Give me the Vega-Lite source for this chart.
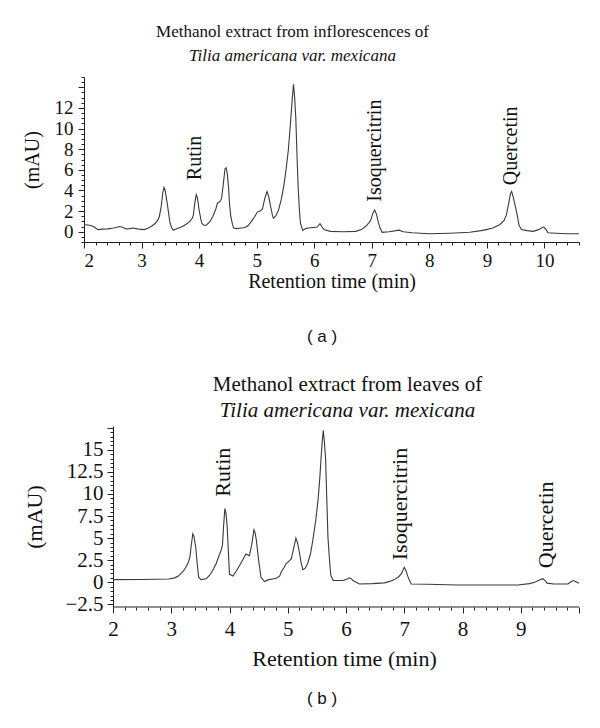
{
  "$schema": "https://vega.github.io/schema/vega-lite/v6.json",
  "background": "white",
  "padding": {"left": 22, "top": 22, "right": 5, "bottom": 5},
  "config": {
    "view": {"stroke": null},
    "font": "Liberation Serif",
    "axis": {
      "grid": false,
      "domainColor": "#222",
      "tickColor": "#222",
      "labelFont": "Liberation Serif",
      "labelColor": "#111",
      "titleFont": "Liberation Serif",
      "titleFontWeight": "normal",
      "titleColor": "#111"
    },
    "title": {
      "font": "Liberation Serif",
      "fontWeight": "normal",
      "color": "#111",
      "subtitleFont": "Liberation Serif",
      "subtitleFontStyle": "italic",
      "subtitleColor": "#111",
      "frame": "group",
      "anchor": "middle"
    }
  },
  "datasets": {
    "a": [
      {"t": 2.0, "v": 0.7}, {"t": 2.06, "v": 0.65}, {"t": 2.12, "v": 0.6}, {"t": 2.18, "v": 0.45}, {"t": 2.24, "v": 0.2},
      {"t": 2.32, "v": 0.25}, {"t": 2.41, "v": 0.27}, {"t": 2.52, "v": 0.35}, {"t": 2.62, "v": 0.5}, {"t": 2.68, "v": 0.4},
      {"t": 2.73, "v": 0.27}, {"t": 2.8, "v": 0.3}, {"t": 2.85, "v": 0.35}, {"t": 2.95, "v": 0.25}, {"t": 3.05, "v": 0.2},
      {"t": 3.12, "v": 0.35}, {"t": 3.18, "v": 0.55}, {"t": 3.23, "v": 0.77}, {"t": 3.28, "v": 1.1}, {"t": 3.31, "v": 1.5},
      {"t": 3.34, "v": 2.4}, {"t": 3.37, "v": 3.8}, {"t": 3.39, "v": 4.3}, {"t": 3.41, "v": 4.0}, {"t": 3.43, "v": 3.3},
      {"t": 3.45, "v": 2.6}, {"t": 3.47, "v": 1.8}, {"t": 3.49, "v": 1.0}, {"t": 3.52, "v": 0.4}, {"t": 3.55, "v": 0.13},
      {"t": 3.6, "v": 0.25}, {"t": 3.69, "v": 0.45}, {"t": 3.77, "v": 0.7}, {"t": 3.84, "v": 1.0}, {"t": 3.88, "v": 1.3},
      {"t": 3.9, "v": 1.6}, {"t": 3.92, "v": 2.6}, {"t": 3.95, "v": 3.6}, {"t": 3.97, "v": 3.3}, {"t": 4.0, "v": 2.1},
      {"t": 4.03, "v": 1.2}, {"t": 4.05, "v": 0.77}, {"t": 4.09, "v": 0.6}, {"t": 4.13, "v": 0.65}, {"t": 4.19, "v": 1.0},
      {"t": 4.24, "v": 1.5}, {"t": 4.29, "v": 2.2}, {"t": 4.32, "v": 2.8}, {"t": 4.36, "v": 2.9}, {"t": 4.39, "v": 3.2},
      {"t": 4.42, "v": 4.6}, {"t": 4.45, "v": 6.1}, {"t": 4.47, "v": 6.2}, {"t": 4.49, "v": 5.6}, {"t": 4.51, "v": 4.4},
      {"t": 4.53, "v": 2.6}, {"t": 4.55, "v": 1.5}, {"t": 4.58, "v": 0.7}, {"t": 4.6, "v": 0.35}, {"t": 4.65, "v": 0.3},
      {"t": 4.73, "v": 0.35}, {"t": 4.8, "v": 0.4}, {"t": 4.85, "v": 0.6}, {"t": 4.91, "v": 1.0}, {"t": 4.97, "v": 1.5},
      {"t": 5.01, "v": 1.9}, {"t": 5.06, "v": 2.0}, {"t": 5.1, "v": 2.2}, {"t": 5.14, "v": 3.2}, {"t": 5.18, "v": 3.9},
      {"t": 5.21, "v": 3.4}, {"t": 5.24, "v": 2.5}, {"t": 5.27, "v": 1.7}, {"t": 5.29, "v": 1.3}, {"t": 5.33, "v": 1.5},
      {"t": 5.38, "v": 2.1}, {"t": 5.43, "v": 3.2}, {"t": 5.47, "v": 4.4}, {"t": 5.51, "v": 6.0}, {"t": 5.55, "v": 7.9},
      {"t": 5.58, "v": 10.0}, {"t": 5.6, "v": 11.5}, {"t": 5.62, "v": 13.0}, {"t": 5.64, "v": 14.3}, {"t": 5.66, "v": 13.0},
      {"t": 5.68, "v": 11.0}, {"t": 5.7, "v": 7.5}, {"t": 5.72, "v": 4.4}, {"t": 5.74, "v": 2.3}, {"t": 5.76, "v": 0.84},
      {"t": 5.8, "v": 0.13}, {"t": 5.85, "v": 0.3}, {"t": 5.9, "v": 0.35}, {"t": 5.98, "v": 0.4}, {"t": 6.05, "v": 0.45},
      {"t": 6.1, "v": 0.77}, {"t": 6.13, "v": 0.5}, {"t": 6.17, "v": 0.2}, {"t": 6.28, "v": 0.03}, {"t": 6.5, "v": 0.0},
      {"t": 6.72, "v": 0.03}, {"t": 6.82, "v": 0.2}, {"t": 6.89, "v": 0.5}, {"t": 6.95, "v": 0.85}, {"t": 6.98, "v": 1.1},
      {"t": 7.02, "v": 1.8}, {"t": 7.05, "v": 2.1}, {"t": 7.08, "v": 1.7}, {"t": 7.11, "v": 1.0}, {"t": 7.14, "v": 0.4},
      {"t": 7.18, "v": -0.06}, {"t": 7.3, "v": 0.0}, {"t": 7.42, "v": 0.1}, {"t": 7.47, "v": 0.15}, {"t": 7.55, "v": 0.0},
      {"t": 7.7, "v": -0.1}, {"t": 8.0, "v": -0.2}, {"t": 8.35, "v": -0.15}, {"t": 8.7, "v": -0.06}, {"t": 8.9, "v": 0.1},
      {"t": 8.99, "v": 0.2}, {"t": 9.1, "v": 0.35}, {"t": 9.22, "v": 0.68}, {"t": 9.3, "v": 1.1}, {"t": 9.34, "v": 1.65},
      {"t": 9.38, "v": 2.8}, {"t": 9.41, "v": 3.7}, {"t": 9.43, "v": 3.9}, {"t": 9.46, "v": 3.3}, {"t": 9.5, "v": 2.3},
      {"t": 9.53, "v": 1.5}, {"t": 9.56, "v": 0.6}, {"t": 9.6, "v": 0.2}, {"t": 9.7, "v": 0.1}, {"t": 9.8, "v": 0.03},
      {"t": 9.9, "v": 0.2}, {"t": 9.96, "v": 0.4}, {"t": 9.99, "v": 0.45}, {"t": 10.03, "v": 0.2}, {"t": 10.06, "v": -0.1},
      {"t": 10.2, "v": -0.15}, {"t": 10.4, "v": -0.2}, {"t": 10.6, "v": -0.2}
    ],
    "b": [
      {"t": 2.0, "v": 0.3}, {"t": 2.5, "v": 0.32}, {"t": 2.96, "v": 0.37}, {"t": 3.06, "v": 0.5}, {"t": 3.12, "v": 0.7},
      {"t": 3.2, "v": 1.2}, {"t": 3.25, "v": 1.7}, {"t": 3.29, "v": 2.2}, {"t": 3.32, "v": 2.85}, {"t": 3.34, "v": 4.0},
      {"t": 3.37, "v": 5.5}, {"t": 3.39, "v": 5.2}, {"t": 3.42, "v": 4.0}, {"t": 3.44, "v": 2.5}, {"t": 3.47, "v": 0.57},
      {"t": 3.51, "v": 0.3}, {"t": 3.6, "v": 0.4}, {"t": 3.66, "v": 0.8}, {"t": 3.71, "v": 1.33}, {"t": 3.77, "v": 2.1},
      {"t": 3.82, "v": 3.0}, {"t": 3.86, "v": 3.7}, {"t": 3.88, "v": 4.3}, {"t": 3.9, "v": 6.5}, {"t": 3.92, "v": 8.35},
      {"t": 3.94, "v": 7.8}, {"t": 3.96, "v": 6.3}, {"t": 3.98, "v": 3.5}, {"t": 4.0, "v": 0.9}, {"t": 4.06, "v": 0.7},
      {"t": 4.12, "v": 1.3}, {"t": 4.19, "v": 2.1}, {"t": 4.24, "v": 2.7}, {"t": 4.28, "v": 3.2}, {"t": 4.34, "v": 3.0},
      {"t": 4.38, "v": 4.2}, {"t": 4.42, "v": 5.95}, {"t": 4.44, "v": 5.6}, {"t": 4.46, "v": 4.8}, {"t": 4.5, "v": 2.5},
      {"t": 4.54, "v": 0.57}, {"t": 4.6, "v": 0.08}, {"t": 4.67, "v": 0.3}, {"t": 4.74, "v": 0.38}, {"t": 4.8, "v": 0.45},
      {"t": 4.86, "v": 0.7}, {"t": 4.89, "v": 1.2}, {"t": 4.94, "v": 1.7}, {"t": 4.97, "v": 2.1}, {"t": 5.02, "v": 2.4},
      {"t": 5.06, "v": 2.65}, {"t": 5.1, "v": 3.8}, {"t": 5.14, "v": 5.0}, {"t": 5.17, "v": 4.4}, {"t": 5.2, "v": 3.4},
      {"t": 5.23, "v": 2.2}, {"t": 5.26, "v": 1.4}, {"t": 5.3, "v": 1.6}, {"t": 5.34, "v": 2.1}, {"t": 5.39, "v": 3.2},
      {"t": 5.43, "v": 4.75}, {"t": 5.48, "v": 7.0}, {"t": 5.52, "v": 9.3}, {"t": 5.55, "v": 11.8}, {"t": 5.57, "v": 13.9},
      {"t": 5.59, "v": 15.8}, {"t": 5.61, "v": 17.2}, {"t": 5.63, "v": 15.8}, {"t": 5.65, "v": 13.9}, {"t": 5.67, "v": 9.5},
      {"t": 5.69, "v": 5.1}, {"t": 5.72, "v": 2.2}, {"t": 5.74, "v": 0.76}, {"t": 5.78, "v": 0.2}, {"t": 5.88, "v": 0.2},
      {"t": 5.95, "v": 0.2}, {"t": 6.01, "v": 0.35}, {"t": 6.06, "v": 0.5}, {"t": 6.1, "v": 0.35}, {"t": 6.12, "v": 0.2},
      {"t": 6.23, "v": -0.2}, {"t": 6.45, "v": -0.15}, {"t": 6.66, "v": -0.07}, {"t": 6.75, "v": 0.1}, {"t": 6.83, "v": 0.3},
      {"t": 6.9, "v": 0.6}, {"t": 6.95, "v": 0.95}, {"t": 6.98, "v": 1.4}, {"t": 7.0, "v": 1.7}, {"t": 7.03, "v": 1.3},
      {"t": 7.06, "v": 0.7}, {"t": 7.09, "v": 0.2}, {"t": 7.12, "v": -0.2}, {"t": 7.4, "v": -0.22}, {"t": 7.92, "v": -0.3},
      {"t": 8.5, "v": -0.3}, {"t": 8.95, "v": -0.3}, {"t": 9.15, "v": -0.15}, {"t": 9.24, "v": 0.0}, {"t": 9.32, "v": 0.25},
      {"t": 9.38, "v": 0.4}, {"t": 9.42, "v": 0.2}, {"t": 9.45, "v": -0.1}, {"t": 9.57, "v": -0.2}, {"t": 9.81, "v": -0.2},
      {"t": 9.85, "v": 0.0}, {"t": 9.9, "v": 0.2}, {"t": 9.95, "v": 0.05}, {"t": 10.0, "v": -0.1}
    ],
    "labelsA": [
      {"t": 3.92, "v": 5.0, "name": "Rutin"},
      {"t": 7.05, "v": 2.9, "name": "Isoquercitrin"},
      {"t": 9.42, "v": 4.5, "name": "Quercetin"}
    ],
    "labelsB": [
      {"t": 3.88, "v": 9.7, "name": "Rutin"},
      {"t": 6.92, "v": 2.5, "name": "Isoquercitrin"},
      {"t": 9.44, "v": 1.6, "name": "Quercetin"}
    ],
    "axisB": [{"t0": 2, "t1": 10, "v": -2.8}],
    "capA": [{"c": "( a )"}],
    "capB": [{"c": "( b )"}]
  },
  "vconcat": [
    {
      "width": 495,
      "height": 165,
      "title": {"text": "Methanol extract from inflorescences of", "subtitle": "Tilia americana var. mexicana", "dx": -39, "offset": 12, "fontSize": 17, "subtitleFontSize": 17, "subtitlePadding": 7},
      "encoding": {
        "x": {
          "field": "t", "type": "quantitative",
          "scale": {"domain": [2, 10.6], "nice": false, "zero": false},
          "axis": {
            "title": "Retention time (min)",
            "titleFontSize": 20,
            "labelFontSize": 19,
            "values": [2, 2.2, 2.4, 2.6, 2.8, 3, 3.2, 3.4, 3.6, 3.8, 4, 4.2, 4.4, 4.6, 4.8, 5, 5.2, 5.4, 5.6, 5.8, 6, 6.2, 6.4, 6.6, 6.8, 7, 7.2, 7.4, 7.6, 7.8, 8, 8.2, 8.4, 8.6, 8.8, 9, 9.2, 9.4, 9.6, 9.8, 10, 10.2, 10.4, 10.6],
            "labelExpr": "abs(datum.value - round(datum.value)) < 0.01 ? format(datum.value, 'd') : ''",
            "tickSize": {"condition": {"test": "abs(datum.value - round(datum.value)) < 0.01", "value": 6}, "value": 3},
            "labelPadding": 3,
            "titlePadding": 1
          }
        },
        "y": {
          "field": "v", "type": "quantitative",
          "scale": {"domain": [-1, 15], "nice": false, "zero": false},
          "axis": {
            "title": "(mAU)",
            "titleFontSize": 20,
            "labelFontSize": 19,
            "values": [-1, -0.5, 0, 0.5, 1, 1.5, 2, 2.5, 3, 3.5, 4, 4.5, 5, 5.5, 6, 6.5, 7, 7.5, 8, 8.5, 9, 9.5, 10, 10.5, 11, 11.5, 12, 12.5, 13, 13.5, 14, 14.5, 15],
            "labelExpr": "(datum.value % 2 === 0 && datum.value >= 0 && datum.value <= 12) ? format(datum.value, 'd') : ''",
            "tickSize": {"condition": {"test": "datum.value % 2 === 0", "value": 6}, "value": 3},
            "labelPadding": 5,
            "titlePadding": 12
          }
        }
      },
      "layer": [
        {"data": {"name": "a"}, "mark": {"type": "line", "color": "#3a3a3a", "strokeWidth": 1.1}},
        {
          "data": {"name": "labelsA"},
          "mark": {"type": "text", "angle": 270, "align": "left", "baseline": "middle", "font": "Liberation Serif", "fontSize": 20, "color": "#111"},
          "encoding": {"text": {"field": "name"}}
        }
      ]
    },
    {
      "width": 476,
      "height": 83,
      "data": {"name": "capA"},
      "mark": {"type": "text", "font": "Liberation Sans", "fontSize": 17, "color": "#111", "dy": 4},
      "encoding": {"text": {"field": "c"}}
    },
    {
      "width": 495,
      "height": 181,
      "title": {"text": "Methanol extract from leaves of", "subtitle": "Tilia americana var. mexicana", "dx": 16, "offset": 5, "fontSize": 21, "subtitleFontSize": 21, "subtitlePadding": 5},
      "encoding": {
        "x": {
          "field": "t", "type": "quantitative",
          "scale": {"domain": [1.502, 10], "nice": false, "zero": false},
          "axis": {
            "title": "Retention time (min)",
            "titleFontSize": 22,
            "labelFontSize": 21,
            "domain": false,
            "titleX": 260,
            "values": [2, 2.2, 2.4, 2.6, 2.8, 3, 3.2, 3.4, 3.6, 3.8, 4, 4.2, 4.4, 4.6, 4.8, 5, 5.2, 5.4, 5.6, 5.8, 6, 6.2, 6.4, 6.6, 6.8, 7, 7.2, 7.4, 7.6, 7.8, 8, 8.2, 8.4, 8.6, 8.8, 9, 9.2, 9.4, 9.6, 9.8, 10],
            "labelExpr": "(abs(datum.value - round(datum.value)) < 0.01 && datum.value < 9.5) ? format(datum.value, 'd') : ''",
            "tickSize": {"condition": {"test": "abs(datum.value - round(datum.value)) < 0.01", "value": 6}, "value": 3},
            "labelPadding": 5,
            "titlePadding": 9
          }
        },
        "y": {
          "field": "v", "type": "quantitative",
          "scale": {"domain": [-2.8, 17.7], "nice": false, "zero": false},
          "axis": {
            "title": "(mAU)",
            "titleFontSize": 22,
            "labelFontSize": 21,
            "offset": -29,
            "values": [-2.5, -2, -1.5, -1, -0.5, 0, 0.5, 1, 1.5, 2, 2.5, 3, 3.5, 4, 4.5, 5, 5.5, 6, 6.5, 7, 7.5, 8, 8.5, 9, 9.5, 10, 10.5, 11, 11.5, 12, 12.5, 13, 13.5, 14, 14.5, 15, 15.5, 16, 16.5, 17, 17.5],
            "labelExpr": "(datum.value % 2.5 === 0 && datum.value <= 15) ? format(datum.value, '~g') : ''",
            "tickSize": {"condition": {"test": "datum.value % 2.5 === 0", "value": 6}, "value": 3},
            "labelPadding": 4,
            "titlePadding": 18
          }
        }
      },
      "layer": [
        {
          "data": {"name": "axisB"},
          "mark": {"type": "rule", "color": "#222", "strokeWidth": 1},
          "encoding": {"x": {"field": "t0"}, "x2": {"field": "t1"}, "y": {"field": "v"}}
        },
        {"data": {"name": "b"}, "mark": {"type": "line", "color": "#3a3a3a", "strokeWidth": 1.1}},
        {
          "data": {"name": "labelsB"},
          "mark": {"type": "text", "angle": 270, "align": "left", "baseline": "middle", "font": "Liberation Serif", "fontSize": 22, "color": "#111"},
          "encoding": {"text": {"field": "name"}}
        }
      ]
    },
    {
      "width": 476,
      "height": 60,
      "data": {"name": "capB"},
      "mark": {"type": "text", "font": "Liberation Sans", "fontSize": 17, "color": "#111"},
      "encoding": {"text": {"field": "c"}}
    }
  ],
  "spacing": 0
}
